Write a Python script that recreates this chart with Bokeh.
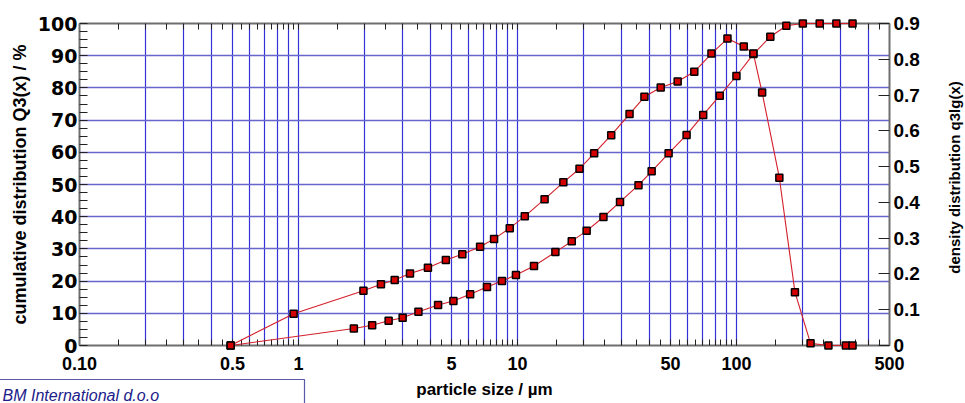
from bokeh.plotting import figure
from bokeh.models import Range1d, LinearAxis, LogAxis, FixedTicker
from bokeh.core.properties import value
from bokeh.embed import file_html
from bokeh.resources import INLINE

# ---- data ----
cum_size = [0.49, 1.79, 2.17, 2.58, 2.99, 3.53, 4.34, 5.10, 6.08, 7.26, 8.50, 9.84,
            11.9, 14.9, 17.7, 20.7, 24.7, 29.4, 35.7, 41.0, 49.0, 59.2, 70.5, 83.9,
            100, 119.5, 142.8, 169, 201, 240, 286, 339]
cum_q3 = [0, 5.3, 6.3, 7.7, 8.6, 10.5, 12.6, 13.8, 15.9, 18.2, 20.0, 21.9,
          24.7, 29.0, 32.4, 35.6, 39.9, 44.6, 49.8, 54.1, 59.7, 65.4, 71.6, 77.6,
          83.7, 90.5, 95.9, 99.3, 100, 100, 100, 100]

dens_size = [0.49, 0.95, 1.98, 2.38, 2.75, 3.23, 3.90, 4.71, 5.60, 6.75, 7.82, 9.22,
             10.8, 13.3, 16.2, 19.2, 22.4, 26.8, 32.5, 38.0, 45.1, 53.9, 64.2, 76.9,
             91.0, 108, 119.5, 131, 157, 185, 218, 263, 316, 339]
dens_q3lg = [0, 0.089, 0.153, 0.171, 0.183, 0.201, 0.217, 0.239, 0.255, 0.276, 0.298, 0.328,
             0.361, 0.409, 0.456, 0.494, 0.537, 0.588, 0.647, 0.695, 0.721, 0.738, 0.765, 0.816,
             0.858, 0.836, 0.816, 0.707, 0.469, 0.149, 0.006, 0, 0, 0]

x_tick_values = [0.1, 0.5, 1, 5, 10, 50, 100, 500]
x_tick_labels = ["0.10", "0.5", "1", "5", "10", "50", "100", "500"]
x_grid_values = [0.2, 0.3, 0.4, 0.5, 0.6, 0.7, 0.8, 0.9,
                 1, 2, 3, 4, 5, 6, 7, 8, 9,
                 10, 20, 30, 40, 50, 60, 70, 80, 90,
                 100, 200, 300, 400]
x_half_values = [0.15, 0.25, 0.35, 0.45, 0.55, 0.65, 0.75, 0.85, 0.95,
                 1.5, 2.5, 3.5, 4.5, 5.5, 6.5, 7.5, 8.5, 9.5,
                 15, 25, 35, 45, 55, 65, 75, 85, 95,
                 150, 250, 350, 450]
y_tick_values = [0, 10, 20, 30, 40, 50, 60, 70, 80, 90, 100]
y_minor_values = [2.5, 5, 7.5, 12.5, 15, 17.5, 22.5, 25, 27.5, 32.5, 35, 37.5,
                  42.5, 45, 47.5, 52.5, 55, 57.5, 62.5, 65, 67.5, 72.5, 75, 77.5,
                  82.5, 85, 87.5, 92.5, 95, 97.5]
dens_tick_values = [0, 0.1, 0.2, 0.3, 0.4, 0.5, 0.6, 0.7, 0.8, 0.9]
dens_tick_labels = ["0", "0.1", "0.2", "0.3", "0.4", "0.5", "0.6", "0.7", "0.8", "0.9"]

RED = "#d41f2b"
AXIS_GRAY = "#6e6e6e"

W, H = 965, 403
BL, BR, BT, BB = 79, 76, 23, 58
FW, FH = W - BL - BR, H - BT - BB
X0, X1 = 0.1, 500


def sx(px):
    """canvas pixel column -> log-axis data value (for annotations outside the frame)"""
    return X0 * (X1 / X0) ** ((px - BL) / FW)


def sy(py):
    """canvas pixel row -> value of the auxiliary 'py' range"""
    return H - BB - py


p = figure(width=W, height=H, x_axis_type="log",
           x_range=Range1d(X0, X1), y_range=Range1d(0, 100),
           output_backend="svg", toolbar_location=None,
           min_border_left=BL, min_border_right=BR, min_border_top=BT, min_border_bottom=BB)
p.extra_y_ranges = {"dens": Range1d(0, 0.9), "py": Range1d(0, FH)}
p.outline_line_color = None
p.background_fill_color = "white"
p.border_fill_color = "white"

# grids
p.xgrid.ticker = FixedTicker(ticks=x_grid_values)
p.xgrid.grid_line_color = "#3232d8"
p.xgrid.grid_line_width = 1.2
p.ygrid.ticker = FixedTicker(ticks=y_tick_values[1:-1])
p.ygrid.grid_line_color = "#6666cc"
p.ygrid.grid_line_width = 1.5


def style_axis(ax, tick_in=6, minor_in=6):
    ax.axis_line_color = AXIS_GRAY
    ax.axis_line_width = 2
    ax.major_tick_in = tick_in
    ax.major_tick_out = 0
    ax.minor_tick_in = minor_in
    ax.minor_tick_out = 0
    ax.major_tick_line_color = "#222222"
    ax.minor_tick_line_color = "#222222"
    ax.major_label_text_color = "black"
    ax.major_label_text_font_style = "bold"


# bottom axis
xa = p.xaxis[0]
xa.ticker = FixedTicker(ticks=x_tick_values, minor_ticks=x_grid_values + x_half_values)
xa.major_label_overrides = dict(zip(x_tick_values, x_tick_labels))
style_axis(xa)
xa.major_label_text_font = "Liberation Sans"
xa.major_label_text_font_size = "18px"
xa.major_label_standoff = 11
xa.axis_label = "particle size / µm"
xa.axis_label_text_font = "Liberation Sans"
xa.axis_label_text_font_style = "bold"
xa.axis_label_text_font_size = "17px"
xa.axis_label_text_color = "black"
xa.axis_label_standoff = 7

# top axis (ticks only)
top = LogAxis(ticker=FixedTicker(ticks=[], minor_ticks=x_grid_values + x_half_values))
style_axis(top)
p.add_layout(top, "above")

# left axis
ya = p.yaxis[0]
ya.ticker = FixedTicker(ticks=y_tick_values, minor_ticks=y_minor_values)
style_axis(ya, tick_in=8, minor_in=8)
ya.major_label_text_font = "DejaVu Sans"
ya.major_label_text_font_size = "19px"
ya.major_label_standoff = 2
ya.axis_label = "cumulative distribution Q3(x) / %"
ya.axis_label_text_font = "Liberation Sans"
ya.axis_label_text_font_style = "bold"
ya.axis_label_text_font_size = "18px"
ya.axis_label_text_color = "black"
ya.axis_label_standoff = 5

# right axis
ra = LinearAxis(y_range_name="dens", ticker=FixedTicker(ticks=dens_tick_values))
ra.major_label_overrides = dict(zip(dens_tick_values, dens_tick_labels))
style_axis(ra, tick_in=11, minor_in=0)
ra.major_label_text_font = "Liberation Sans"
ra.major_label_text_font_size = "19px"
ra.major_label_standoff = 4
p.add_layout(ra, "right")

# curves
p.line(cum_size, cum_q3, line_color=RED, line_width=1.1, level="overlay")
p.line(dens_size, dens_q3lg, y_range_name="dens", line_color=RED, line_width=1.1, level="overlay")
p.scatter(cum_size, cum_q3, marker="square", size=7, fill_color="#d40000",
          line_color="black", line_width=1.5, level="overlay")
p.scatter(dens_size, dens_q3lg, y_range_name="dens", marker="square", size=7,
          fill_color="#d40000", line_color="black", line_width=1.5, level="overlay")

# right axis title (reads bottom to top)
p.text(x=[sx(954)], y=[sy(177)], text=["density distribution q3lg(x)"],
       y_range_name="py", angle=90, angle_units="deg",
       text_align="center", text_baseline="middle",
       text_font=value("Liberation Sans"), text_font_style="bold",
       text_font_size="15px", text_color="black", level="overlay")

# company box at bottom left
p.quad(left=[sx(-6)], right=[sx(304)], top=[sy(379)], bottom=[sy(420)],
       y_range_name="py",
       fill_color="white", line_color="#5a5aa8", line_width=1.2, level="overlay")
p.text(x=[sx(2)], y=[sy(395)], text=["BM International d.o.o"],
       y_range_name="py",
       text_align="left", text_baseline="alphabetic",
       text_font=value("Liberation Sans"), text_font_style="italic",
       text_font_size="16px", text_color="#20208a", level="overlay")

open("out.html", "w").write(file_html(p, INLINE))
